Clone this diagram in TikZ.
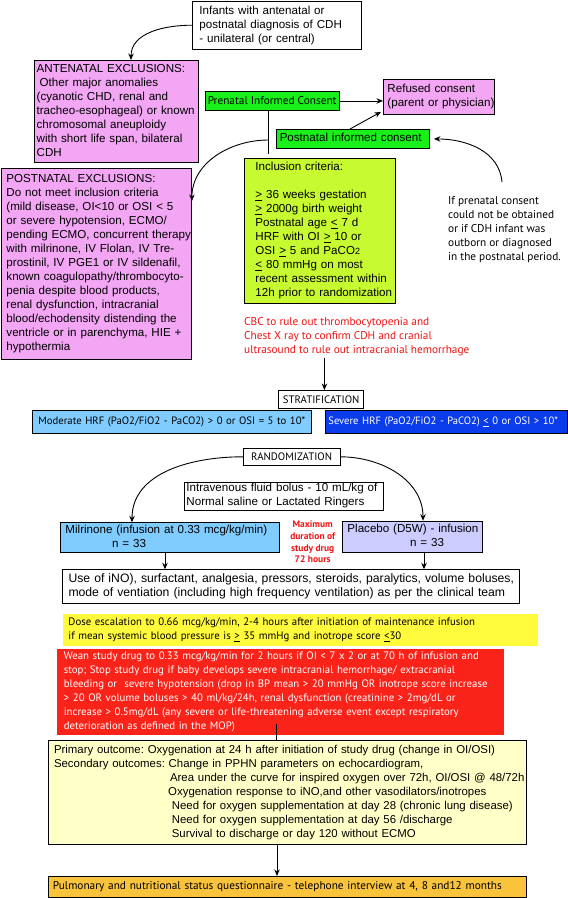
\documentclass[tikz,border=0pt]{standalone}
\usepackage{fontspec}
\setmainfont{Liberation Sans}
\newfontfamily\myr{PT Sans}
\usetikzlibrary{arrows.meta}
\definecolor{pinkc}{RGB}{243,166,243}
\definecolor{greenc}{RGB}{25,240,25}
\definecolor{limec}{RGB}{200,250,50}
\definecolor{ltblue}{RGB}{128,204,255}
\definecolor{dkblue}{RGB}{10,60,235}
\definecolor{lavc}{RGB}{204,204,255}
\definecolor{yelc}{RGB}{255,250,60}
\definecolor{redbc}{RGB}{250,35,25}
\definecolor{redtc}{RGB}{240,20,20}
\definecolor{outcc}{RGB}{255,255,200}
\definecolor{orngc}{RGB}{250,195,60}
\newcommand{\mylines}[1]{\begin{tabular}{@{}l@{}}#1\end{tabular}}
\frenchspacing
\begin{document}
\begin{tikzpicture}[x=1pt,y=-1pt,
  bx/.style={draw=black, line width=0.9pt, anchor=north west, inner sep=0pt, align=left},
  hv/.style={font=\frenchspacing\fontsize{11.6}{14}\selectfont},
  my/.style={font=\frenchspacing\myr\fontsize{11.3}{14}\selectfont},
  mys/.style={font=\frenchspacing\myr\fontsize{10.8}{14}\selectfont},
  arr/.style={-{Stealth[length=6.5pt,width=5.5pt]}, line width=0.9pt},
  ln/.style={line width=0.9pt}]
\useasboundingbox[fill=white] (0,0) rectangle (568,898);

\node[bx,hv,minimum width=168.5pt,minimum height=48.5pt,text width=154.5pt] (top) at (192,0.5)
 {\mylines{Infants with antenatal or\\postnatal diagnosis of CDH\\- unilateral (or central)}};

\node[bx,hv,fill=pinkc,minimum width=164pt,minimum height=102pt,text width=159pt] (ante) at (33.7,60)
 {\mylines{ANTENATAL EXCLUSIONS:\\\hspace*{3pt}Other major anomalies\\(cyanotic CHD, renal and\\tracheo-esophageal) or known\\chromosomal aneuploidy\\with short life span, bilateral\\CDH}};

\node[bx,my,fill=greenc,minimum width=134pt,minimum height=19pt,align=center] (pren) at (204.7,91) {Prenatal Informed Consent};

\node[bx,hv,fill=pinkc,minimum width=110.5pt,minimum height=35pt,text width=102.5pt] (ref) at (383,79)
 {\mylines{Refused consent\\(parent or physician)}};

\node[bx,hv,fill=greenc,minimum width=153pt,minimum height=19pt,text width=146.4pt] (post) at (276,129)
 {\mylines{Postnatal informed consent}};

\node[bx,hv,fill=limec,minimum width=151pt,minimum height=145pt,text width=129pt] (incl) at (244,158)
 {\mylines{Inclusion criteria:\\ \\
 \underline{>} 36 weeks gestation\\
 \underline{>} 2000g birth weight\\
 Postnatal age \underline{<} 7 d\\
 HRF with OI \underline{>} 10 or\\
 OSI \underline{>} 5 and PaCO{\fontsize{9}{14}\selectfont 2}\\
 \underline{<} 80 mmHg on most\\
 recent assessment within\\
 12h prior to randomization}};

\node[bx,hv,fill=pinkc,minimum width=190pt,minimum height=191pt,text width=180pt] (pex) at (1,168)
 {\mylines{POSTNATAL EXCLUSIONS:\\Do not meet inclusion criteria\\(mild disease, OI<10 or OSI < 5\\or severe hypotension, ECMO/\\pending ECMO, concurrent therapy\\with milrinone, IV Flolan, IV Tre-\\prostinil, IV PGE1 or IV sildenafil,\\known coagulopathy/thrombocyto-\\penia despite blood products,\\renal dysfunction, intracranial\\blood/echodensity distending the\\ventricle or in parenchyma, HIE +\\hypothermia}};

\node[my,anchor=north west,inner sep=0pt,align=left] (note) at (448,194.4)
 {\mylines{If prenatal consent\\could not be obtained\\or if CDH infant was\\outborn or diagnosed\\in the postnatal period.}};

\node[my,anchor=north west,inner sep=0pt,align=left,text=redtc] (redtxt) at (244,315.1)
 {\mylines{CBC to rule out thrombocytopenia and\\Chest X ray to confirm CDH and cranial\\ultrasound to rule out intracranial hemorrhage}};

\node[bx,mys,minimum width=85.4pt,minimum height=17.7pt,align=center] (strat) at (278,390) {STRATIFICATION};

\node[bx,font=\frenchspacing\myr\fontsize{10.7}{14}\selectfont,fill=ltblue,minimum width=278.6pt,minimum height=22.7pt,text width=266.4pt] (mod) at (31.9,410)
 {\mylines{Moderate HRF (PaO2/FiO2 - PaCO2) > 0 or OSI = 5 to 10*}};
\node[bx,font=\frenchspacing\myr\fontsize{10.6}{14}\selectfont,fill=dkblue,text=white,minimum width=242pt,minimum height=23pt,text width=236pt] (sev) at (325,410)
 {\mylines{Severe HRF (PaO2/FiO2 - PaCO2) \underline{<} 0 or OSI > 10*}};

\node[bx,mys,minimum width=96.7pt,minimum height=17.3pt,align=center] (rnd) at (242.8,447.7) {RANDOMIZATION};

\node[bx,hv,minimum width=199pt,minimum height=27.6pt,text width=195pt] (ivf) at (184,481.7)
 {\mylines{Intravenous fluid bolus - 10 mL/kg of\\Normal saline or Lactated Ringers}};

\node[bx,hv,fill=ltblue,minimum width=219.2pt,minimum height=29.4pt,text width=208.8pt] (mil) at (59.8,522.3)
 {\mylines{Milrinone (infusion at 0.33 mcg/kg/min)\\\hspace*{46.7pt}n = 33}};
\node[bx,hv,fill=lavc,minimum width=139.6pt,minimum height=31pt,text width=130.4pt] (plac) at (342.4,520.7)
 {\mylines{Placebo (D5W) - infusion\\\hspace*{62.7pt}n = 33}};

\node[anchor=north,inner sep=0pt,align=center,text=redtc,font=\myr\bfseries\fontsize{9.5}{11.6}\selectfont] (maxd) at (312.7,521)
 {Maximum\\duration of\\study drug\\72 hours};

\node[bx,font=\frenchspacing\fontsize{12.2}{14}\selectfont,minimum width=456.5pt,minimum height=34pt,text width=445pt] (use) at (62.3,569.3)
 {\mylines{Use of iNO), surfactant, analgesia, pressors, steroids, paralytics, volume boluses,\\mode of ventiation (including high frequency ventilation) as per the clinical team}};

\node[bx,mys,draw=none,fill=yelc,minimum width=475pt,minimum height=32pt,text width=463.6pt] (yel) at (62.3,613.3)
 {\mylines{Dose escalation to 0.66 mcg/kg/min, 2-4 hours after initiation of maintenance infusion\\if mean systemic blood pressure is \underline{>} 35 mmHg and inotrope score \underline{<}30}};

\node[bx,mys,draw=none,fill=redbc,text=white,minimum width=447.4pt,minimum height=86.7pt,text width=433pt] (redb) at (56.2,648.3)
 {\mylines{Wean study drug to 0.33 mcg/kg/min for 2 hours if OI < 7 x 2 or at 70 h of infusion and\\stop; Stop study drug if baby develops severe intracranial hemorrhage/ extracranial\\bleeding or \ severe hypotension (drop in BP mean > 20 mmHg OR inotrope score increase\\> 20 OR volume boluses > 40 ml/kg/24h, renal dysfunction (creatinine > 2mg/dL or\\increase > 0.5mg/dL (any severe or life-threatening adverse event except respiratory\\deterioration as defined in the MOP)}};

\node[bx,font=\frenchspacing\fontsize{11.4}{14}\selectfont,fill=outcc,minimum width=477.8pt,minimum height=104pt,text width=467pt] (outc) at (48.2,740)
 {\mylines{Primary outcome: Oxygenation at 24 h after initiation of study drug (change in OI/OSI)\\
 Secondary outcomes: Change in PPHN parameters on echocardiogram,\\
 \hspace*{116pt}Area under the curve for inspired oxygen over 72h, OI/OSI @ 48/72h\\
 \hspace*{114.2pt}Oxygenation response to iNO,and other vasodilators/inotropes\\
 \hspace*{117.8pt}Need for oxygen supplementation at day 28 (chronic lung disease)\\
 \hspace*{117.8pt}Need for oxygen supplementation at day 56 /discharge\\
 \hspace*{117.8pt}Survival to discharge or day 120 without ECMO}};

\node[bx,my,fill=orngc,minimum width=478pt,minimum height=21pt,text width=469pt] (orng) at (48,876)
 {\mylines{Pulmonary and nutritional status questionnaire - telephone interview at 4, 8 and12 months}};

% connectors
\draw[arr] (top.west) to[out=180,in=90] ([xshift=97.3pt]ante.north west);
\draw[arr] (pren.east) -- (pren.east -| ref.west);
\draw[arr] ([xshift=74pt]post.north west) -- ([xshift=-2pt,yshift=3pt]ref.south west);
\coordinate (j1) at (268.5,154);
\coordinate (j2) at (268.5,140);
\draw[ln] (pren.south -| j1) -- (j1);
\draw[arr] (j2) to[out=180,in=90] ([yshift=-33pt]pex.north east);
\coordinate (n1) at (502,182);
\draw[arr] (n1) to[out=95,in=0] ([xshift=4pt]post.east);
\coordinate (s1) at ([xshift=3.3pt]strat.north);
\draw[arr] (redtxt.south -| s1) -- (s1);
\draw[arr] (rnd.west) to[out=180,in=90] ([xshift=72.2pt]mil.north west);
\draw[arr] (rnd.east) to[out=0,in=90] ([xshift=80.6pt]plac.north west);
\coordinate (m1) at ([xshift=105.2pt]mil.south west);
\draw[arr] (m1) -- (m1 |- use.north);
\coordinate (p1) at ([xshift=81.6pt]plac.south west);
\draw[arr] (p1) -- (p1 |- use.north);
\coordinate (r1) at ([xshift=220.2pt,yshift=12pt]redb.south west);
\draw[ln] (r1) -- (r1 |- outc.north);
\coordinate (o1) at ([xshift=228.8pt]outc.south west);
\draw[arr] (o1) -- (o1 |- orng.north);
\end{tikzpicture}
\end{document}
